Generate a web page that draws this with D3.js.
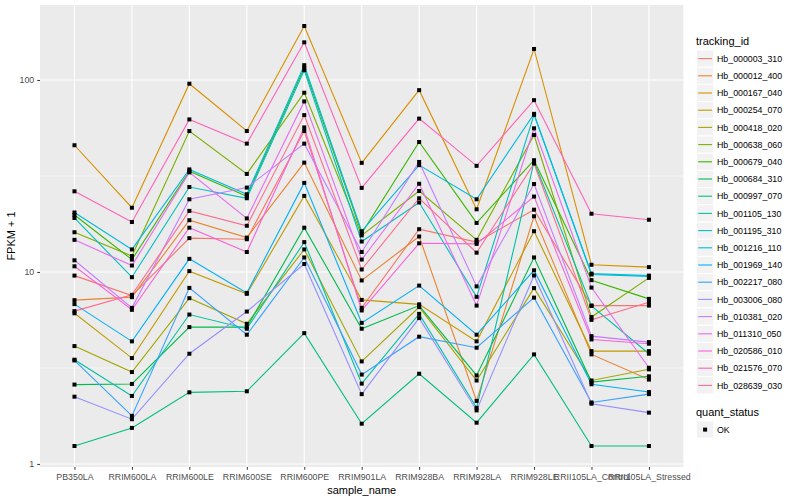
<!DOCTYPE html>
<html>
<head>
<meta charset="utf-8">
<script src="https://cdn.jsdelivr.net/npm/d3@7"></script>
<style>
  body { margin: 0; background: #fff; }
  text { font-family: "Liberation Sans", Arial, Helvetica, sans-serif; }
</style>
</head>
<body>
<svg id="chart" width="800" height="500"></svg>
<script>
// ---- data ----
const samples = ["PB350LA","RRIM600LA","RRIM600LE","RRIM600SE","RRIM600PE","RRIM901LA","RRIM928BA","RRIM928LA","RRIM928LE","RRII105LA_Control","RRII105LA_Stressed"];
const trackingIds = ["Hb_000003_310","Hb_000012_400","Hb_000167_040","Hb_000254_070","Hb_000418_020","Hb_000638_060","Hb_000679_040","Hb_000684_310","Hb_000997_070","Hb_001105_130","Hb_001195_310","Hb_001216_110","Hb_001969_140","Hb_002217_080","Hb_003006_080","Hb_010381_020","Hb_011310_050","Hb_020586_010","Hb_021576_070","Hb_028639_030"];
const yTicks = [1, 10, 100];
const yMinor = [3.16, 31.6];
const quantStatus = ["OK"];

// FPKM + 1, one array per tracking_id, in sample order
const hb_000003_310 = [9.57, 7.53, 15.0, 14.8, 54.2, 6.50, 16.7, 14.3, 21.1, 6.68, 6.68];
const hb_000012_400 = [7.13, 7.39, 18.6, 15.1, 37.1, 9.03, 15.3, 2.13, 19.5, 3.72, 2.75];
const hb_000167_040 = [45.7, 21.6, 95.6, 54.2, 191, 37.0, 88.5, 21.2, 145, 10.9, 10.6];
const hb_000254_070 = [6.09, 3.56, 10.1, 7.69, 24.9, 7.15, 6.78, 4.35, 16.3, 3.87, 3.87];
const hb_000418_020 = [4.11, 3.01, 7.30, 5.37, 13.1, 3.42, 6.56, 2.72, 8.24, 2.72, 3.11];
const hb_000638_060 = [16.1, 12.1, 54.2, 32.4, 85.8, 15.5, 26.4, 14.7, 51.7, 5.82, 9.31];
const hb_000679_040 = [19.8, 11.6, 33.5, 24.8, 115.7, 15.9, 47.5, 18.0, 38.2, 9.06, 7.24];
const hb_000684_310 = [2.59, 2.61, 5.16, 5.16, 17.0, 5.06, 6.68, 2.89, 11.9, 2.67, 2.86];
const hb_000997_070 = [1.24, 1.54, 2.36, 2.39, 4.80, 1.62, 2.95, 1.64, 3.72, 1.24, 1.24];
const hb_001105_130 = [3.49, 2.26, 6.00, 5.06, 14.3, 2.62, 6.05, 1.96, 37.5, 6.66, 3.75];
const hb_001195_310 = [19.1, 9.39, 27.7, 24.2, 112.4, 14.4, 23.0, 7.42, 65.8, 9.70, 9.48];
const hb_001216_110 = [20.4, 13.1, 34.2, 25.4, 119.4, 16.3, 36.0, 23.9, 66.6, 9.80, 9.57];
const hb_001969_140 = [6.80, 4.35, 11.7, 7.78, 29.1, 5.43, 8.49, 4.71, 10.2, 2.60, 2.37];
const hb_002217_080 = [3.46, 1.78, 8.26, 4.71, 11.9, 2.92, 4.60, 4.03, 7.35, 2.09, 2.31];
const hb_003006_080 = [2.24, 1.71, 3.75, 6.22, 11.0, 2.31, 5.75, 1.90, 9.59, 2.06, 1.85];
const hb_010381_020 = [11.5, 6.50, 23.9, 27.5, 46.6, 12.7, 37.4, 8.41, 28.7, 4.63, 4.31];
const hb_011310_050 = [14.7, 10.8, 33.0, 19.0, 77.3, 11.6, 28.8, 6.68, 56.0, 8.29, 3.17];
const hb_020586_010 = [10.7, 6.35, 17.0, 12.7, 56.6, 6.30, 14.1, 14.0, 24.7, 4.45, 4.23];
const hb_021576_070 = [26.3, 18.2, 62.3, 46.6, 157, 27.4, 62.9, 35.7, 78.5, 20.1, 18.7];
const hb_028639_030 = [6.25, 7.60, 20.8, 17.4, 65.6, 10.3, 24.2, 12.6, 36.7, 5.63, 6.96];

const seriesValues = [hb_000003_310, hb_000012_400, hb_000167_040, hb_000254_070, hb_000418_020,
  hb_000638_060, hb_000679_040, hb_000684_310, hb_000997_070, hb_001105_130, hb_001195_310,
  hb_001216_110, hb_001969_140, hb_002217_080, hb_003006_080, hb_010381_020, hb_011310_050,
  hb_020586_010, hb_021576_070, hb_028639_030];

// ggplot2 default hue palette for 20 levels (style)
const palette = ["#F8766D","#EA8331","#D89000","#C09B00","#A3A500","#7CAE00","#39B600","#00BB4E","#00BF7D","#00C1A3","#00BFC4","#00BAE0","#00B0F6","#35A2FF","#9590FF","#C77CFF","#E76BF3","#FA62DB","#FF62BC","#FF6C91"];

const series = trackingIds.map((id, i) => ({
  id, color: palette[i],
  values: samples.map((s, j) => ({ sample: s, value: seriesValues[i][j] }))
}));

// ---- layout ----
const svg = d3.select("#chart");
const panel = { left: 40, right: 683.4, top: 5, bottom: 467 };

const x = d3.scalePoint().domain(samples).range([panel.left, panel.right]).padding(0.6);

const allVals = seriesValues.flat();
const lmin = Math.log10(d3.min(allVals)), lmax = Math.log10(d3.max(allVals));
const ex = (lmax - lmin) * 0.05;
const y = d3.scaleLog().domain([Math.pow(10, lmin - ex), Math.pow(10, lmax + ex)]).range([panel.bottom, panel.top]);

// panel background
svg.append("rect").attr("x", panel.left).attr("y", panel.top)
  .attr("width", panel.right - panel.left).attr("height", panel.bottom - panel.top)
  .attr("fill", "#EBEBEB");

const grid = svg.append("g");
yMinor.forEach(v => grid.append("line")
  .attr("x1", panel.left).attr("x2", panel.right).attr("y1", y(v)).attr("y2", y(v))
  .attr("stroke", "#fff").attr("stroke-width", 0.55));
yTicks.forEach(v => grid.append("line")
  .attr("x1", panel.left).attr("x2", panel.right).attr("y1", y(v)).attr("y2", y(v))
  .attr("stroke", "#fff").attr("stroke-width", 1.1));
samples.forEach(s => grid.append("line")
  .attr("x1", x(s)).attr("x2", x(s)).attr("y1", panel.top).attr("y2", panel.bottom)
  .attr("stroke", "#fff").attr("stroke-width", 1.1));

// lines
const line = d3.line().x(d => x(d.sample)).y(d => y(d.value));
svg.append("g").selectAll("path").data(series).join("path")
  .attr("d", d => line(d.values))
  .attr("fill", "none").attr("stroke", d => d.color).attr("stroke-width", 1.1);

// points
const pts = series.flatMap(s => s.values);
svg.append("g").selectAll("rect").data(pts).join("rect")
  .attr("x", d => x(d.sample) - 2).attr("y", d => y(d.value) - 2)
  .attr("width", 4).attr("height", 4).attr("fill", "#000");

// axes
const xAxis = d3.axisBottom(x).tickSize(2.75).tickPadding(4);
const gx = svg.append("g").attr("transform", `translate(0,${panel.bottom})`).call(xAxis);
gx.select(".domain").remove();
gx.selectAll("line").attr("stroke", "#333");
gx.selectAll("text").attr("fill", "#4D4D4D").attr("font-size", 8.8);

const yAxis = d3.axisLeft(y).tickValues(yTicks).tickFormat(d3.format("d")).tickSize(2.75).tickPadding(3);
const gy = svg.append("g").attr("transform", `translate(${panel.left},0)`).call(yAxis);
gy.select(".domain").remove();
gy.selectAll("line").attr("stroke", "#333");
gy.selectAll("text").attr("fill", "#4D4D4D").attr("font-size", 8.8);

svg.append("text").attr("x", (panel.left + panel.right) / 2).attr("y", 494)
  .attr("text-anchor", "middle").attr("font-size", 11).attr("fill", "#000").text("sample_name");
svg.append("text").attr("transform", `translate(15,${(panel.top + panel.bottom) / 2}) rotate(-90)`)
  .attr("text-anchor", "middle").attr("font-size", 11).attr("fill", "#000").text("FPKM + 1");

// legend
const lg = svg.append("g").attr("transform", "translate(696,0)");
lg.append("text").attr("x", 0).attr("y", 44.5).attr("font-size", 11).text("tracking_id");
const keyH = 17.2, key0 = 50;
series.forEach((s, i) => {
  const ky = key0 + i * keyH;
  lg.append("rect").attr("x", 0.5).attr("y", ky).attr("width", keyH).attr("height", keyH)
    .attr("fill", "#F2F2F2").attr("stroke", "#fff").attr("stroke-width", 1);
  lg.append("line").attr("x1", 2.2).attr("x2", keyH - 1.2).attr("y1", ky + keyH / 2).attr("y2", ky + keyH / 2)
    .attr("stroke", s.color).attr("stroke-width", 1.1);
  lg.append("text").attr("x", 21).attr("y", ky + keyH / 2 + 3.1).attr("font-size", 8.8).attr("fill", "#000").text(s.id);
});
lg.append("text").attr("x", 0).attr("y", 416).attr("font-size", 11).text("quant_status");
quantStatus.forEach((q, i) => {
  const ky = 421 + i * keyH;
  lg.append("rect").attr("x", 0.5).attr("y", ky).attr("width", keyH).attr("height", keyH)
    .attr("fill", "#F2F2F2").attr("stroke", "#fff").attr("stroke-width", 1);
  lg.append("rect").attr("x", 0.5 + keyH / 2 - 2).attr("y", ky + keyH / 2 - 2).attr("width", 4).attr("height", 4).attr("fill", "#000");
  lg.append("text").attr("x", 21).attr("y", ky + keyH / 2 + 3.1).attr("font-size", 8.8).text(q);
});
</script>
</body>
</html>
